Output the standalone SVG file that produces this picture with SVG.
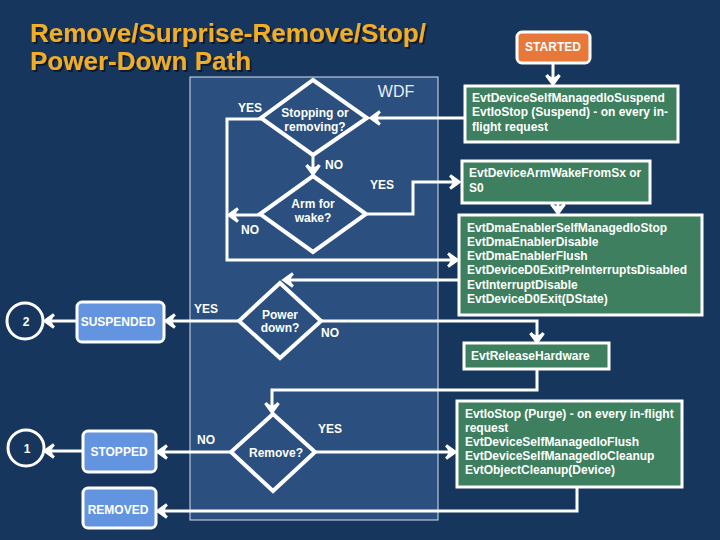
<svg xmlns="http://www.w3.org/2000/svg" width="720" height="540" viewBox="0 0 720 540">
<style>
.lbl{font-family:"Liberation Sans",Arial,sans-serif;font-weight:bold;font-size:12px;fill:#ffffff}
.mid{text-anchor:middle}
.con{fill:none;stroke:#ffffff;stroke-width:3;marker-end:url(#ah)}
.dia{fill:none;stroke:#ffffff;stroke-width:4;stroke-linejoin:miter}
.state{fill:#6394e0;stroke:#ffffff;stroke-width:3}
.green{fill:#3d7f5e;stroke:#ffffff;stroke-width:3}
.circ{fill:none;stroke:#ffffff;stroke-width:3}
.title{font-family:"Liberation Sans",Arial,sans-serif;font-weight:bold;font-size:26px;fill:#f0ae26}
</style>
<defs>
<marker id="ah" markerUnits="userSpaceOnUse" markerWidth="16" markerHeight="16" refX="11" refY="8" orient="auto">
<path d="M2,1.5 L11,8 L2,14.5" fill="none" stroke="#ffffff" stroke-width="3.2" stroke-linejoin="miter"/>
<path d="M2,3 L10,8 L2,13 L5,8 z" fill="#ffffff"/>
</marker>
<filter id="sh" x="-5%" y="-20%" width="110%" height="140%">
<feDropShadow dx="2" dy="2" stdDeviation="0.6" flood-color="#08182c" flood-opacity="0.9"/>
</filter>
</defs>
<rect x="0" y="0" width="720" height="540" fill="#17365d"/>
<g id="title" filter="url(#sh)">
<text class="title" x="30" y="42">Remove/Surprise-Remove/Stop/</text>
<text class="title" x="30" y="70">Power-Down Path</text>
</g>
<g id="wdf">
<rect x="190" y="77" width="248" height="443" fill="#2b5080" stroke="#d8e0ec" stroke-width="1"/>
<text x="396" y="97" font-family="Liberation Sans,Arial,sans-serif" font-size="16" fill="#e8edf5" text-anchor="middle">WDF</text>
</g>
<g id="connectors">
<path class="con" d="M553,63 V84"/>
<path class="con" d="M464,118 H371"/>
<path class="con" d="M313,156 V174"/>
<path class="con" d="M261,119 H227 V260 H457"/>
<path class="con" d="M260,215 H229"/>
<path class="con" d="M367,214 H413 V182 H459"/>
<path class="con" d="M558,203 V213"/>
<path class="con" d="M458,280 H284"/>
<path class="con" d="M239,321 H166"/>
<path class="con" d="M76,321 H45"/>
<path class="con" d="M322,321 H537 V342"/>
<path class="con" d="M537,369 V390 H272 V412"/>
<path class="con" d="M316,452 H455"/>
<path class="con" d="M230,452 H158"/>
<path class="con" d="M82,451 H45"/>
<path class="con" d="M577,487 V511 H158"/>
<text class="lbl" x="250" y="112" text-anchor="middle">YES</text>
<text class="lbl" x="334" y="169" text-anchor="middle">NO</text>
<text class="lbl" x="250" y="234" text-anchor="middle">NO</text>
<text class="lbl" x="382" y="189" text-anchor="middle">YES</text>
<text class="lbl" x="206" y="313" text-anchor="middle">YES</text>
<text class="lbl" x="330" y="337" text-anchor="middle">NO</text>
<text class="lbl" x="330" y="433" text-anchor="middle">YES</text>
<text class="lbl" x="206" y="444" text-anchor="middle">NO</text>
</g>
<g id="stopping">
<path class="dia" d="M313,80 L367,118 L313,155 L261,118 Z"/>
<text class="lbl mid" x="315" y="117">Stopping or</text>
<text class="lbl mid" x="315" y="131">removing?</text>
</g>
<g id="armwake">
<path class="dia" d="M313,176 L366,214 L313,252 L260,214 Z"/>
<text class="lbl mid" x="313" y="208">Arm for</text>
<text class="lbl mid" x="313" y="222">wake?</text>
</g>
<g id="powerdown">
<path class="dia" d="M280,283 L321,321 L280,358 L239,321 Z"/>
<text class="lbl mid" x="280" y="319">Power</text>
<text class="lbl mid" x="280" y="332">down?</text>
</g>
<g id="remove">
<path class="dia" d="M273,414 L315,452 L273,491 L231,452 Z"/>
<text class="lbl mid" x="276" y="457">Remove?</text>
</g>
<g id="circle2">
<circle class="circ" cx="25" cy="321" r="18"/>
<text class="lbl mid" x="26" y="326">2</text>
</g>
<g id="suspended">
<rect class="state" x="77" y="302" width="87" height="40" rx="5"/>
<text class="lbl mid" x="118" y="326">SUSPENDED</text>
</g>
<g id="circle1">
<circle class="circ" cx="26" cy="448" r="18"/>
<text class="lbl mid" x="27" y="453">1</text>
</g>
<g id="stopped">
<rect class="state" x="83" y="431" width="73" height="41" rx="5"/>
<text class="lbl mid" x="119" y="456">STOPPED</text>
</g>
<g id="removed">
<rect class="state" x="83" y="488" width="73" height="40" rx="5"/>
<text class="lbl mid" x="118" y="514">REMOVED</text>
</g>
<g id="started">
<rect x="517" y="32" width="73" height="31" rx="5" fill="#e8783a" stroke="#ffffff" stroke-width="3"/>
<text class="lbl mid" x="553" y="51">STARTED</text>
</g>
<g id="suspendbox">
<rect class="green" x="465" y="86" width="213" height="56"/>
<text class="lbl" x="472" y="102">EvtDeviceSelfManagedIoSuspend</text>
<text class="lbl" x="472" y="116">EvtIoStop (Suspend) - on every in-</text>
<text class="lbl" x="472" y="131">flight request</text>
</g>
<g id="armbox">
<rect class="green" x="462" y="161" width="188" height="42"/>
<text class="lbl" x="469" y="177">EvtDeviceArmWakeFromSx or</text>
<text class="lbl" x="469" y="192">S0</text>
</g>
<g id="dmabox">
<rect class="green" x="459" y="215" width="243" height="100"/>
<text class="lbl" x="467" y="232">EvtDmaEnablerSelfManagedIoStop</text>
<text class="lbl" x="467" y="246">EvtDmaEnablerDisable</text>
<text class="lbl" x="467" y="260">EvtDmaEnablerFlush</text>
<text class="lbl" x="467" y="274">EvtDeviceD0ExitPreInterruptsDisabled</text>
<text class="lbl" x="467" y="289">EvtInterruptDisable</text>
<text class="lbl" x="467" y="303">EvtDeviceD0Exit(DState)</text>
</g>
<g id="releasebox">
<rect class="green" x="464" y="343" width="145" height="26"/>
<text class="lbl" x="471" y="360">EvtReleaseHardware</text>
</g>
<g id="purgebox">
<rect class="green" x="457" y="401" width="225" height="86"/>
<text class="lbl" x="465" y="418">EvtIoStop (Purge) - on every in-flight</text>
<text class="lbl" x="465" y="432">request</text>
<text class="lbl" x="465" y="446">EvtDeviceSelfManagedIoFlush</text>
<text class="lbl" x="465" y="460">EvtDeviceSelfManagedIoCleanup</text>
<text class="lbl" x="465" y="474">EvtObjectCleanup(Device)</text>
</g>
</svg>
